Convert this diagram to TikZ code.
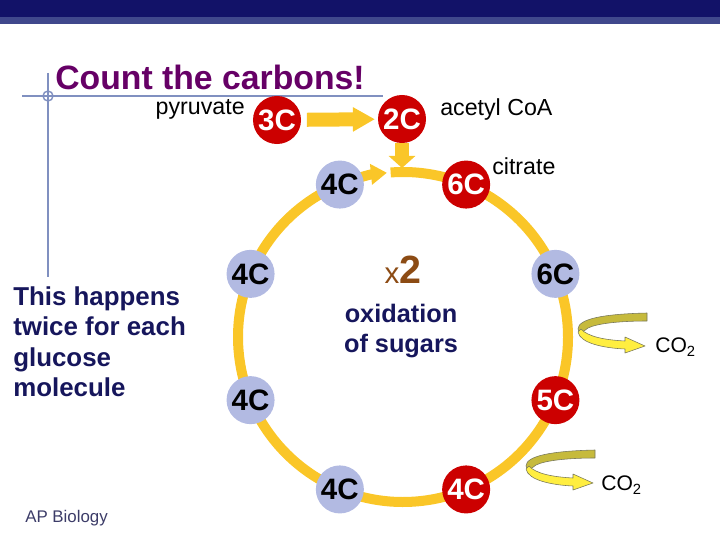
\documentclass[tikz,border=0pt]{standalone}
\usepackage{fontspec}
\setmainfont{Liberation Sans}
\usetikzlibrary{arrows.meta}

\definecolor{banner}{RGB}{18,18,104}
\definecolor{bannerlight}{RGB}{64,72,140}
\definecolor{rulecol}{RGB}{128,144,192}
\definecolor{titlepurple}{RGB}{102,0,102}
\definecolor{navy}{RGB}{22,22,92}
\definecolor{apgrey}{RGB}{60,60,104}
\definecolor{brown}{RGB}{140,75,20}
\definecolor{ringgold}{RGB}{250,198,40}
\definecolor{lavender}{RGB}{178,186,226}
\definecolor{acidred}{RGB}{204,0,0}
\definecolor{bandback}{RGB}{198,186,60}
\definecolor{bandfront}{RGB}{255,238,64}
\definecolor{bandedge}{RGB}{120,120,90}

\tikzset{
  co2arrow/.pic={
    \begin{scope}[yscale=-1]
      \filldraw[fill=bandback, draw=bandedge, line width=0.4pt]
        (69,0) .. controls (25,1) and (0,6) .. (0,16) -- (2,21) -- (10,15)
        .. controls (20,10) and (45,8) .. (69,8) -- cycle;
      \filldraw[fill=bandfront, draw=bandedge, line width=0.4pt]
        (3,16) .. controls (10,24) and (28,27) .. (47,28) -- (47,24) -- (67,33)
        -- (47,40) -- (47,36) .. controls (25,35) and (2,30) .. (0,19) -- cycle;
    \end{scope}
  }
}

\begin{document}
\begin{tikzpicture}[x=0.025cm, y=0.025cm, line join=round]
  \tikzstyle{carbon}=[circle, minimum size=1.2cm, inner sep=0pt, font=\fontsize{21}{21}\selectfont\bfseries]
  \tikzstyle{oxa}=[carbon, fill=lavender, text=black]
  \tikzstyle{acid}=[carbon, fill=acidred, text=white]
  \tikzstyle{krebs}=[draw=ringgold, line width=0.25cm]
  \tikzstyle{fatarrow}=[draw=ringgold, line width=0.35cm, -{Triangle[width=0.575cm,length=0.55cm]}]
  \tikzstyle{txt}=[inner sep=0pt, font=\fontsize{16.5}{16.5}\selectfont]
  \tikzstyle{rule}=[draw=rulecol, line width=1pt]

  \useasboundingbox (0,0) rectangle (720,540);
  % banner
  \fill[banner] (0,523) rectangle (720,540);
  \fill[bannerlight] (0,516) rectangle (720,523);

  % title and guide lines
  \draw[rule] (22,444) -- (383,444);
  \draw[rule] (48,467) -- (48,263);
  \draw[rule] (48,444) circle (5);
  \node[txt, anchor=base west, text=titlepurple, font=\fontsize{24}{24}\selectfont\bfseries] (title) at (55,450) {Count the carbons!};

  % the cycle
  \coordinate (hub) at (403,203);
  \coordinate (merge) at ([shift={(94.3:165)}]hub);
  \coordinate (start) at ([shift={(112.5:165)}]hub);
  \draw[krebs] (merge) arc (94.3:-248:165);
  \draw[krebs, -{Triangle[width=0.5cm,length=0.4cm]}] (start) arc (112.5:95.6:165);
  \foreach \a/\t/\s [count=\i] in {112.5/4C/oxa, 67.5/6C/acid, 22.5/6C/oxa, -22.5/5C/acid,
                                   -67.5/4C/acid, -112.5/4C/oxa, -157.5/4C/oxa, 157.5/4C/oxa}
    \node[\s] (R_\i) at ([shift={(\a:165)}]hub) {\t};

  % pyruvate -> acetyl CoA
  \node[acid] (pyr) at (277,420) {3C};
  \node[acid] (acoa) at (402,421) {2C};
  \coordinate (drop) at (402,372);
  \draw[fatarrow, shorten <=4pt, shorten >=2pt] (pyr) -- (acoa);
  \draw[fatarrow, -{Triangle[width=0.65cm,length=0.3cm]}] (acoa) -- (drop);

  \node[txt, anchor=base east] (pyrlabel) at (245,425) {pyruvate};
  \node[txt, anchor=base west] (acoalabel) at (440,424) {acetyl CoA};
  \node[txt, anchor=base west] (citlabel) at (492,365) {citrate};

  % centre of the cycle
  \node[txt, anchor=base, text=brown] (twice) at (403,257)
    {{\fontsize{21}{21}\selectfont x}{\fontsize{28}{28}\selectfont\bfseries 2}};
  \node[txt, anchor=north, align=center, text=navy, font=\fontsize{18}{21.3}\selectfont\bfseries] (oxid) at (401,236)
    {oxidation\\of sugars};

  % carbon dioxide released
  \pic at (578,227) {co2arrow};
  \pic at (526,90) {co2arrow};
  \node[txt, anchor=west, font=\fontsize{15}{15}\selectfont] (co2a) at (655,193) {CO\textsubscript{2}};
  \node[txt, anchor=west, font=\fontsize{15}{15}\selectfont] (co2b) at (601,55) {CO\textsubscript{2}};

  % side notes
  \node[txt, anchor=north west, align=left, text=navy, font=\fontsize{18.4}{21.8}\selectfont\bfseries] (note) at (13,254)
    {This happens\\twice for each\\glucose\\molecule};
  \node[txt, anchor=base west, text=apgrey, font=\fontsize{12}{12}\selectfont] (ap) at (25,18) {AP Biology};
\end{tikzpicture}
\end{document}
